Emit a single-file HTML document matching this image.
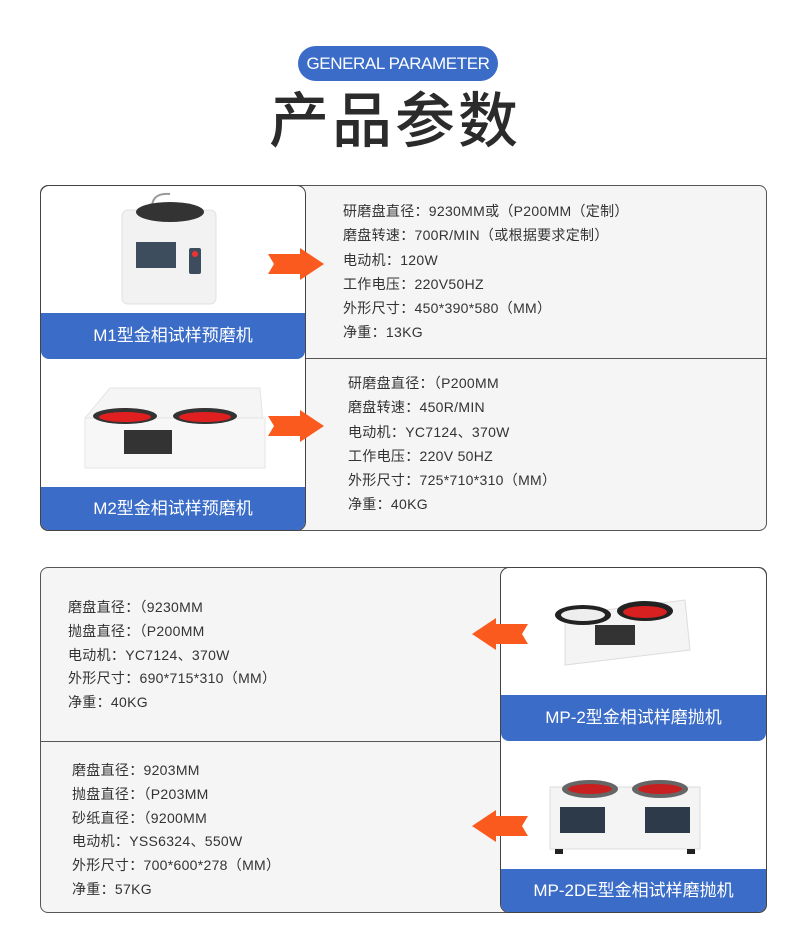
<!DOCTYPE html>
<html><head><meta charset="utf-8"><style>
*{margin:0;padding:0;box-sizing:border-box}
body{width:790px;height:938px;background:#fff;position:relative;overflow:hidden;font-family:"Liberation Sans","Noto Sans CJK SC",sans-serif;color:#333}
.a{position:absolute}
.pill{left:298px;top:46px;width:200px;height:35px;border-radius:18px;background:#3a6cc8;color:#fff;font-size:17px;line-height:35px;text-align:center;letter-spacing:-0.4px;font-weight:500}
.title{left:0;width:790px;top:84px;text-align:center;font-size:60px;font-weight:500;color:#2b2b2b;line-height:76px;letter-spacing:3px}
.panel{background:#f5f5f5;border:1px solid #555;border-radius:8px}
.card{background:#fff;border:1.5px solid #444;border-radius:9px;overflow:hidden}
.lab{background:#3a6cc8;color:#fff;font-size:17px;text-align:center;position:absolute;left:0;right:0}
.txt{font-size:14px;line-height:24.3px;color:#333;white-space:nowrap;letter-spacing:0.3px}
.line{background:#555;height:1px}
</style></head><body>
<div class="a pill">GENERAL PARAMETER</div>
<div class="a title">产品参数</div>

<div class="a panel" style="left:40px;top:185px;width:727px;height:346px"></div>
<div class="a line" style="left:305px;top:358px;width:462px"></div>
<div class="a card" style="left:40px;top:185px;width:266px;height:346px">
  <div class="lab" style="top:127px;height:46px;line-height:46px;border-radius:0 0 8px 8px">M1型金相试样预磨机</div>
  <div class="lab" style="top:301px;height:44px;line-height:44px">M2型金相试样预磨机</div>
</div>
<svg class="a" style="left:110px;top:190px" width="120" height="120">
<path d="M42 22 Q40 2 60 4" stroke="#999" stroke-width="2" fill="none"/>
<rect x="12" y="20" width="94" height="94" rx="6" fill="#f2f2f2" stroke="#e0e0e0"/>
<ellipse cx="60" cy="22" rx="34" ry="10" fill="#333"/>
<rect x="26" y="52" width="40" height="26" fill="#3d4d5e"/>
<rect x="79" y="58" width="12" height="26" rx="2" fill="#3d4d5e"/>
<circle cx="85" cy="64" r="3" fill="#e33"/>
</svg>
<svg class="a" style="left:70px;top:378px" width="200" height="100">
<path d="M40 10 L190 10 L195 70 L20 90 L15 40 Z" fill="#f5f5f5" stroke="#e4e4e4"/>
<rect x="15" y="40" width="180" height="50" fill="#f7f7f7" stroke="#e4e4e4"/>
<ellipse cx="55" cy="38" rx="32" ry="8" fill="#333"/><ellipse cx="55" cy="39" rx="26" ry="5" fill="#e02020"/>
<ellipse cx="135" cy="38" rx="32" ry="8" fill="#333"/><ellipse cx="135" cy="39" rx="26" ry="5" fill="#e02020"/>
<rect x="54" y="52" width="48" height="24" fill="#333"/>
</svg>
<svg class="a" style="left:268px;top:248px" width="58" height="32"><polygon points="0,6 32,6 32,0 56,16 32,32 32,26 0,26 6,16" fill="#fb5a1e"/></svg>
<svg class="a" style="left:268px;top:410px" width="58" height="32"><polygon points="0,6 32,6 32,0 56,16 32,32 32,26 0,26 6,16" fill="#fb5a1e"/></svg>

<div class="a txt" style="left:343px;top:199px">研磨盘直径：9230MM或（P200MM（定制）<br>磨盘转速：700R/MIN（或根据要求定制）<br>电动机：120W<br>工作电压：220V50HZ<br>外形尺寸：450*390*580（MM）<br>净重：13KG</div>
<div class="a txt" style="left:348px;top:371px">研磨盘直径：（P200MM<br>磨盘转速：450R/MIN<br>电动机：YC7124、370W<br>工作电压：220V 50HZ<br>外形尺寸：725*710*310（MM）<br>净重：40KG</div>

<div class="a panel" style="left:40px;top:567px;width:727px;height:346px"></div>
<div class="a line" style="left:40px;top:741px;width:462px"></div>
<div class="a card" style="left:500px;top:567px;width:267px;height:346px">
  <div class="lab" style="top:127px;height:46px;line-height:46px;border-radius:0 0 8px 8px">MP-2型金相试样磨抛机</div>
  <div class="lab" style="top:301px;height:44px;line-height:44px">MP-2DE型金相试样磨抛机</div>
</div>
<svg class="a" style="left:545px;top:585px" width="160" height="100">
<path d="M20 30 L140 15 L145 65 L20 80 Z" fill="#f4f4f4" stroke="#ddd"/>
<ellipse cx="38" cy="30" rx="28" ry="10" fill="#222"/><ellipse cx="38" cy="30" rx="22" ry="6" fill="#eee"/>
<ellipse cx="100" cy="26" rx="28" ry="10" fill="#222"/><ellipse cx="100" cy="27" rx="22" ry="6" fill="#d82020"/>
<rect x="50" y="40" width="40" height="20" fill="#333"/>
</svg>
<svg class="a" style="left:545px;top:765px" width="160" height="95">
<rect x="5" y="22" width="150" height="62" fill="#f4f4f4" stroke="#ddd"/>
<ellipse cx="45" cy="24" rx="28" ry="9" fill="#666"/><ellipse cx="45" cy="24" rx="22" ry="5" fill="#c82020"/>
<ellipse cx="115" cy="24" rx="28" ry="9" fill="#666"/><ellipse cx="115" cy="24" rx="22" ry="5" fill="#c82020"/>
<rect x="15" y="42" width="45" height="26" fill="#2c3a4a"/><rect x="100" y="42" width="45" height="26" fill="#2c3a4a"/>
<rect x="10" y="84" width="8" height="5" fill="#222"/><rect x="142" y="84" width="8" height="5" fill="#222"/>
</svg>
<svg class="a" style="left:472px;top:618px" width="58" height="32"><polygon points="56,6 24,6 24,0 0,16 24,32 24,26 56,26 50,16" fill="#fb5a1e"/></svg>
<svg class="a" style="left:472px;top:810px" width="58" height="32"><polygon points="56,6 24,6 24,0 0,16 24,32 24,26 56,26 50,16" fill="#fb5a1e"/></svg>

<div class="a txt" style="left:68px;top:596px;line-height:23.8px">磨盘直径：（9230MM<br>抛盘直径：（P200MM<br>电动机：YC7124、370W<br>外形尺寸：690*715*310（MM）<br>净重：40KG</div>
<div class="a txt" style="left:72px;top:759px;line-height:23.8px">磨盘直径：9203MM<br>抛盘直径：（P203MM<br>砂纸直径：（9200MM<br>电动机：YSS6324、550W<br>外形尺寸：700*600*278（MM）<br>净重：57KG</div>
</body></html>
